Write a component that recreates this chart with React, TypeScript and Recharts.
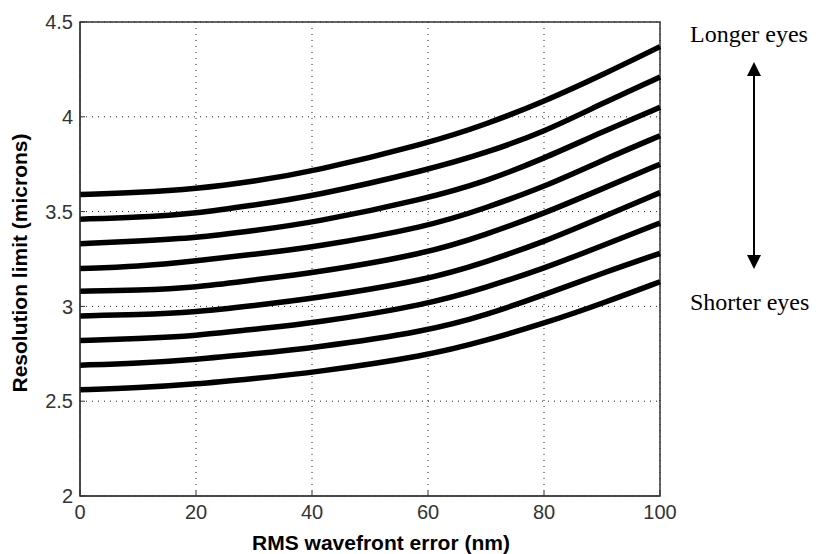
import React from 'react';
import {
  LineChart,
  Line,
  CartesianGrid,
  XAxis,
  YAxis,
  ReferenceArea,
  Label,
} from 'recharts';

// RMS wavefront error (nm)
const wavefront = [0, 10, 20, 30, 40, 60, 70, 80, 90, 100];

// resolution limit (microns), one curve per eye length, longest first
const eye1 = [3.59, 3.6, 3.62, 3.66, 3.71, 3.86, 3.96, 4.08, 4.22, 4.37];
const eye2 = [3.46, 3.47, 3.49, 3.535, 3.58, 3.72, 3.81, 3.92, 4.07, 4.21];
const eye3 = [3.33, 3.345, 3.36, 3.4, 3.44, 3.57, 3.66, 3.78, 3.92, 4.05];
const eye4 = [3.2, 3.21, 3.24, 3.275, 3.31, 3.42, 3.52, 3.63, 3.77, 3.9];
const eye5 = [3.08, 3.085, 3.1, 3.14, 3.175, 3.28, 3.38, 3.49, 3.62, 3.75];
const eye6 = [2.95, 2.955, 2.97, 3.005, 3.04, 3.14, 3.235, 3.34, 3.47, 3.6];
const eye7 = [2.82, 2.83, 2.845, 2.88, 2.91, 3.01, 3.1, 3.2, 3.32, 3.44];
const eye8 = [2.69, 2.7, 2.72, 2.75, 2.78, 2.87, 2.955, 3.06, 3.175, 3.28];
const eye9 = [2.56, 2.57, 2.59, 2.62, 2.65, 2.74, 2.82, 2.91, 3.015, 3.13];

const xTicks = [0, 20, 40, 60, 80, 100];
const yTicks = [2, 2.5, 3, 3.5, 4, 4.5];

const curves = [eye1, eye2, eye3, eye4, eye5, eye6, eye7, eye8, eye9];

const data = wavefront.map((x, i) => {
  const row: Record<string, number> = { x };
  curves.forEach((c, k) => {
    row['e' + (k + 1)] = c[i];
  });
  return row;
});

const sans = '"Liberation Sans", Arial, sans-serif';
const serif = '"Liberation Serif", "Times New Roman", serif';

const App: React.FC = () => {
  return (
    <div style={{ position: 'absolute', left: 0, top: 0, width: 819, height: 554, background: '#fff' }}>
      <LineChart
        width={819}
        height={554}
        data={data}
        margin={{ top: 22, right: 159, left: 20, bottom: 28 }}
        style={{ fontFamily: sans }}
      >
        <CartesianGrid stroke="#222" strokeDasharray="1 5" />
        <XAxis
          type="number"
          dataKey="x"
          domain={[0, 100]}
          ticks={xTicks}
          height={30}
          stroke="#333"
          tickSize={-5}
          tickMargin={14}
          tick={{ fill: '#333', fontSize: 20 }}
        >
          <Label
            value="RMS wavefront error (nm)"
            position="insideBottom"
            offset={-24}
            dx={11}
            style={{ fontSize: 21, fontWeight: 'bold', fill: '#000' }}
          />
        </XAxis>
        <YAxis
          type="number"
          domain={[2, 4.5]}
          ticks={yTicks}
          width={60}
          stroke="#333"
          tickSize={-5}
          tickMargin={12}
          tick={{ fill: '#333', fontSize: 20 }}
        >
          <Label
            value="Resolution limit (microns)"
            angle={-90}
            position="insideLeft"
            offset={0}
            dy={4}
            style={{ fontSize: 21, fontWeight: 'bold', fill: '#000', textAnchor: 'middle' }}
          />
        </YAxis>
        {curves.map((_, k) => (
          <Line
            key={k}
            type="basis"
            dataKey={'e' + (k + 1)}
            stroke="#000"
            strokeWidth={5.5}
            dot={false}
            isAnimationActive={false}
          />
        ))}
        <ReferenceArea x1={0} x2={100} y1={2} y2={4.5} fill="none" stroke="#333" strokeWidth={1.5} />
      </LineChart>
      <svg
        width={819}
        height={554}
        style={{ position: 'absolute', left: 0, top: 0, pointerEvents: 'none' }}
      >
        <text x={690} y={42} fontFamily={serif} fontSize={24} fill="#000">
          Longer eyes
        </text>
        <text x={690} y={310} fontFamily={serif} fontSize={24} fill="#000">
          Shorter eyes
        </text>
        <line x1={754} y1={74} x2={754} y2={257} stroke="#000" strokeWidth={2} />
        <polygon points="754,62 747,76 761,76" fill="#000" />
        <polygon points="754,269 747,255 761,255" fill="#000" />
      </svg>
    </div>
  );
};

export default App;
